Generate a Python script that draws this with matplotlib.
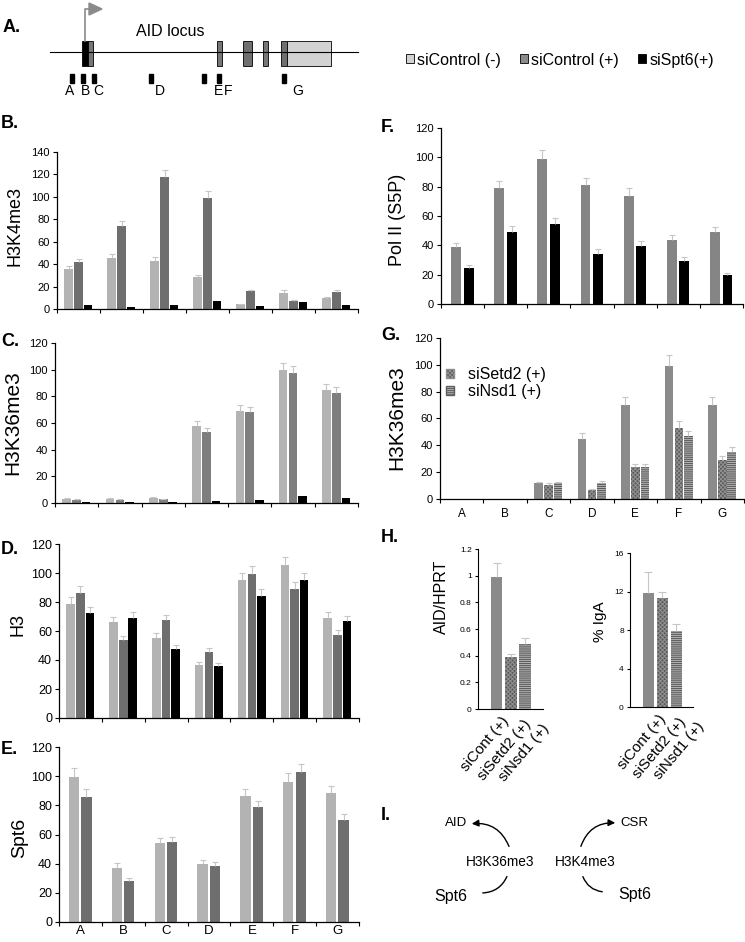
import matplotlib
matplotlib.use("Agg")
import matplotlib.pyplot as plt
from matplotlib.patches import Rectangle, Patch, FancyArrowPatch, Polygon
import numpy as np

plt.rcParams["font.family"] = ["Liberation Sans", "DejaVu Sans"]
plt.rcParams["hatch.linewidth"] = 0.8

W, H = 745, 942

sites = ["A", "B", "C", "D", "E", "F", "G"]

# B. H3K4me3
b_ctl_minus = [35.5, 45.9, 42.9, 28.1, 4.4, 14.5, 9.5]
b_ctl_minus_err = [2.5, 3.1, 3.1, 1.9, 0.5, 2.4, 1.4]
b_ctl_plus = [41.7, 74.0, 117.8, 99.4, 15.7, 6.8, 14.8]
b_ctl_plus_err = [2.7, 4.4, 6.5, 6.2, 1.3, 1.2, 2.1]
b_spt6 = [3.8, 2.0, 3.8, 7.1, 2.7, 5.9, 3.6]

# C. H3K36me3
c_ctl_minus = [3.0, 3.0, 3.8, 57.5, 69.2, 99.5, 85.0]
c_ctl_minus_err = [0.5, 0.5, 1.0, 4.0, 4.0, 5.5, 4.5]
c_ctl_plus = [2.2, 2.5, 2.7, 53.2, 68.0, 97.7, 82.5]
c_ctl_plus_err = [0.5, 0.4, 0.5, 3.0, 4.0, 5.3, 4.5]
c_spt6 = [0.7, 0.7, 0.7, 1.2, 2.5, 5.0, 3.8]

# D. H3
d_ctl_minus = [78.6, 66.2, 55.4, 36.3, 94.9, 105.3, 69.0]
d_ctl_minus_err = [4.6, 3.7, 3.2, 2.6, 5.1, 6.0, 3.9]
d_ctl_plus = [86.4, 53.8, 67.4, 45.5, 99.3, 89.0, 57.0]
d_ctl_plus_err = [4.9, 3.0, 3.9, 2.8, 5.7, 4.8, 3.5]
d_spt6 = [72.6, 69.2, 47.8, 35.9, 84.1, 94.9, 67.1]
d_spt6_err = [4.2, 3.9, 2.8, 2.0, 4.6, 5.1, 3.5]

# E. Spt6
e_ctl_minus = [99.4, 37.3, 53.9, 39.8, 86.2, 96.2, 88.2]
e_ctl_minus_err = [6.2, 2.9, 3.7, 2.9, 5.2, 5.7, 5.3]
e_ctl_plus = [85.5, 28.1, 54.6, 38.6, 78.6, 102.6, 69.7]
e_ctl_plus_err = [5.5, 2.3, 3.7, 2.5, 4.6, 6.0, 4.6]

# F. Pol II (S5P)
f_ctl_plus = [38.9, 79.1, 98.9, 80.9, 73.9, 43.9, 48.9]
f_ctl_plus_err = [2.7, 4.8, 6.1, 5.2, 5.0, 3.1, 3.6]
f_spt6 = [24.3, 49.3, 54.5, 34.3, 39.5, 29.3, 19.5]
f_spt6_err = [2.3, 3.9, 4.1, 3.2, 3.2, 3.0, 1.6]

# G. H3K36me3 after methyltransferase knockdown (A, B not measured)
g_ctl_plus = [np.nan, np.nan, 11.4, 44.8, 70.0, 98.8, 70.0]
g_ctl_plus_err = [0, 0, 1.3, 4.2, 5.8, 8.7, 5.8]
g_setd2 = [np.nan, np.nan, 10.2, 6.0, 23.3, 52.5, 28.8]
g_setd2_err = [0, 0, 1.5, 1.3, 2.2, 5.8, 3.2]
g_nsd1 = [np.nan, np.nan, 11.4, 11.5, 23.3, 46.8, 35.0]
g_nsd1_err = [0, 0, 1.0, 1.6, 2.2, 4.0, 3.3]

# H. AID expression and class switching
h_labels = ["siCont (+)", "siSetd2 (+)", "siNsd1 (+)"]
h_aid = [0.988, 0.39, 0.487]
h_aid_err = [0.11, 0.026, 0.045]
h_iga = [11.8, 11.3, 7.9]
h_iga_err = [2.2, 0.7, 0.7]

# A. gene schematic (pixel layout of the locus drawing)
exons = [(82, 88, "black"), (88, 93, "#777777"), (217, 222, "#777777"),
         (243, 252, "#6f6f6f"), (263, 268, "#777777"), (281, 287, "#6f6f6f"),
         (287, 331, "#d2d2d2")]
probe_x = [72, 83, 94, 151, 204, 219, 284]
probe_letters = [(70, "A"), (85, "B"), (98, "C"), (160, "D"), (218, "E"), (228, "F"), (298, "G")]

LIGHT = "#b3b3b3"
DARK = "#6e6e6e"
ERR = "#c6c6c6"
SETD2 = dict(facecolor="#585858", hatch="xxxxxxxx", edgecolor="#8e8e8e")
NSD1 = dict(facecolor="#b4b4b4", hatch="--------", edgecolor="#5e5e5e")

OFF3 = [-0.23, 0.0, 0.22]
OFF2 = [-0.15, 0.14]

fig = plt.figure(figsize=(W / 100, H / 100), dpi=100)


def px_axes(x0, y0, x1, y1):
    return fig.add_axes([x0 / W, 1 - y1 / H, (x1 - x0) / W, (y1 - y0) / H])


def ftext(x, y, s, **kw):
    fig.text(x / W, 1 - y / H, s, **kw)


def style(ax, ymax, step, fs, xlabels=False, xfs=9, xpad=7):
    for s in ("top", "right"):
        ax.spines[s].set_visible(False)
    for s in ("left", "bottom"):
        ax.spines[s].set_linewidth(0.9)
    ax.set_ylim(0, ymax)
    ax.set_yticks(np.arange(0, ymax + 1, step))
    ax.tick_params(axis="y", length=3, width=0.8, labelsize=fs, pad=2)
    ax.set_xlim(-0.5, 6.5)
    ax.set_xticks(np.arange(-0.5, 7, 1), minor=True)
    ax.tick_params(axis="x", which="minor", length=3, width=0.8)
    ax.set_xticks(range(7))
    ax.set_xticklabels(sites if xlabels else [], fontsize=xfs)
    ax.tick_params(axis="x", which="major", length=0, pad=xpad)


def bars(ax, series, offsets, width):
    x = np.arange(len(series[0][0]))
    for (vals, errs, kw), off in zip(series, offsets):
        ax.bar(x + off, vals, width, linewidth=0, **kw)
        if errs is None:
            continue
        _, caps, _ = ax.errorbar(x + off, vals, yerr=[np.zeros(len(vals)), errs],
                                 fmt="none", ecolor=ERR, elinewidth=0.8,
                                 capsize=2.5, capthick=0.8)
        caps[0].set_visible(False)


# ---- A. locus schematic
axA = px_axes(0, 0, 380, 110)
axA.set_xlim(0, 380)
axA.set_ylim(110, 0)
axA.axis("off")
axA.plot([50, 358], [52, 52], color="black", lw=0.8)
for x0, x1, c in exons:
    axA.add_patch(Rectangle((x0, 41), x1 - x0, 25, facecolor=c, edgecolor="black", lw=0.6))
axA.plot([85, 85, 89], [41, 9, 9], color="#8a8a8a", lw=1.2)
axA.add_patch(Polygon([(89, 3), (89, 15), (102, 9)], closed=True, color="#8a8a8a"))
for x in probe_x:
    axA.add_patch(Rectangle((x - 2, 74), 4, 9, color="black"))
for x, s in probe_letters:
    axA.text(x, 91, s, ha="center", va="center", fontsize=10)
axA.text(170, 32, "AID locus", ha="center", va="center", fontsize=11.5)

fig.legend(handles=[Patch(facecolor="#d2d2d2", edgecolor="black", lw=0.6),
                    Patch(facecolor="#8c8c8c", edgecolor="black", lw=0.6),
                    Patch(facecolor="black", edgecolor="black", lw=0.6)],
           labels=["siControl (-)", "siControl (+)", "siSpt6(+)"],
           ncol=3, loc="center left", bbox_to_anchor=(406 / W, 1 - 60 / H),
           frameon=False, fontsize=11.5, handlelength=0.5, handleheight=0.5,
           handletextpad=0.2, columnspacing=1.2, borderpad=0, borderaxespad=0)

# ---- B. H3K4me3
axB = px_axes(57, 152, 358, 309)
style(axB, 140, 20, 8)
bars(axB, [(b_ctl_minus, b_ctl_minus_err, dict(color=LIGHT)),
           (b_ctl_plus, b_ctl_plus_err, dict(color=DARK)),
           (b_spt6, None, dict(color="black"))], OFF3, 0.2)

# ---- C. H3K36me3
axC = px_axes(55, 343, 358, 503)
style(axC, 120, 20, 8)
bars(axC, [(c_ctl_minus, c_ctl_minus_err, dict(color=LIGHT)),
           (c_ctl_plus, c_ctl_plus_err, dict(color="#7e7e7e")),
           (c_spt6, None, dict(color="black"))], OFF3, 0.2)

# ---- D. H3
axD = px_axes(59, 544, 359, 718)
style(axD, 120, 20, 9)
bars(axD, [(d_ctl_minus, d_ctl_minus_err, dict(color=LIGHT)),
           (d_ctl_plus, d_ctl_plus_err, dict(color=DARK)),
           (d_spt6, d_spt6_err, dict(color="black"))], OFF3, 0.2)

# ---- E. Spt6
axE = px_axes(59, 747, 359, 922)
style(axE, 120, 20, 9, xlabels=True, xfs=9.5, xpad=2.5)
bars(axE, [(e_ctl_minus, e_ctl_minus_err, dict(color=LIGHT)),
           (e_ctl_plus, e_ctl_plus_err, dict(color=DARK))], OFF2, 0.24)

# ---- F. Pol II
axF = px_axes(441, 128, 743, 304)
style(axF, 120, 20, 8)
bars(axF, [(f_ctl_plus, f_ctl_plus_err, dict(color="#858585")),
           (f_spt6, f_spt6_err, dict(color="black"))], OFF2, 0.23)

# ---- G. H3K36me3 knockdowns
axG = px_axes(440, 338, 744, 498.5)
style(axG, 120, 20, 8, xlabels=True, xfs=8.5)
bars(axG, [(g_ctl_plus, g_ctl_plus_err, dict(color="#8b8b8b")),
           (g_setd2, g_setd2_err, SETD2),
           (g_nsd1, g_nsd1_err, NSD1)], OFF3, 0.2)
axG.legend(handles=[Patch(**SETD2), Patch(**NSD1)], labels=["siSetd2 (+)", "siNsd1 (+)"],
           loc="upper left", bbox_to_anchor=(0.02, 0.82), frameon=False,
           fontsize=11.5, handlelength=0.5, handleheight=0.5, handletextpad=0.9,
           labelspacing=0.15, borderpad=0, borderaxespad=0)


# ---- H. AID/HPRT and % IgA
def h_panel(ax, vals, errs, ymax, step, xlim, label_x):
    for s in ("top", "right"):
        ax.spines[s].set_visible(False)
    x = np.arange(3)
    kws = [dict(color="#8a8a8a"), SETD2, NSD1]
    for i in range(3):
        ax.bar(x[i], vals[i], 0.82, linewidth=0, **kws[i])
    _, caps, _ = ax.errorbar(x, vals, yerr=[np.zeros(3), errs], fmt="none", ecolor=ERR,
                             elinewidth=0.8, capsize=3, capthick=0.8)
    caps[0].set_visible(False)
    ax.set_xlim(*xlim)
    ax.set_ylim(0, ymax)
    ticks = np.arange(0, ymax + step / 2, step)
    ax.set_yticks(ticks)
    ax.set_yticklabels([f"{v:g}" for v in ticks])
    ax.tick_params(axis="y", length=2.5, width=0.8, labelsize=6, pad=2)
    ax.set_xticks([])
    for lx, dy, s in zip(label_x, [0.03, 0.05, 0.08], h_labels):
        ax.text(lx, -dy, s, transform=ax.get_xaxis_transform(), rotation=50,
                ha="right", va="top", rotation_mode="anchor", fontsize=11, clip_on=False)


axH1 = px_axes(478, 549, 543, 709)
h_panel(axH1, h_aid, h_aid_err, 1.2, 0.2, (-1.3, 3.26), [0.35, 1.85, 3.1])
axH2 = px_axes(630, 553, 693, 707)
h_panel(axH2, h_iga, h_iga_err, 16, 4, (-1.32, 3.18), [0.7, 2.1, 3.4])

# ---- I. model
axI = px_axes(380, 790, 745, 942)
axI.set_xlim(380, 745)
axI.set_ylim(942, 790)
axI.axis("off")
axI.text(456, 823, "AID", ha="center", va="center", fontsize=9.5)
axI.text(634, 823, "CSR", ha="center", va="center", fontsize=9.5)
axI.text(500, 862, "H3K36me3", ha="center", va="center", fontsize=9.8)
axI.text(585, 862, "H3K4me3", ha="center", va="center", fontsize=9.8)
axI.text(451, 896, "Spt6", ha="center", va="center", fontsize=11.5)
axI.text(635, 894, "Spt6", ha="center", va="center", fontsize=11.5)
for a, b, rad, st in [((510, 849), (469, 824), 0.4, "-|>"), ((580, 849), (618, 823), -0.4, "-|>"),
                      ((508, 874), (480, 893), -0.35, "-"), ((582, 874), (605, 892), 0.35, "-")]:
    axI.add_patch(FancyArrowPatch(a, b, connectionstyle=f"arc3,rad={rad}", arrowstyle=st,
                                  mutation_scale=10, lw=1, color="black"))

# ---- panel letters and y labels
for x, y, s in [(3, 27, "A."), (1, 123, "B."), (1, 342, "C."), (1, 550, "D."), (1, 750, "E."),
                (381, 127, "F."), (381, 335, "G."), (381, 537, "H."), (381, 815, "I.")]:
    ftext(x, y, s, ha="left", va="center", fontsize=13, fontweight="bold")

for x, y, s, fs in [(15, 226, "H3K4me3", 13), (13, 423, "H3K36me3", 15), (18, 625, "H3", 13),
                    (20, 838, "Spt6", 14), (397, 220, "Pol II (S5P)", 13), (397, 418, "H3K36me3", 15),
                    (441, 597, "AID/HPRT", 11.5), (600, 622, "% IgA", 11)]:
    ftext(x, y, s, ha="center", va="center", rotation=90, fontsize=fs)

fig.savefig("out.png", dpi=100)
